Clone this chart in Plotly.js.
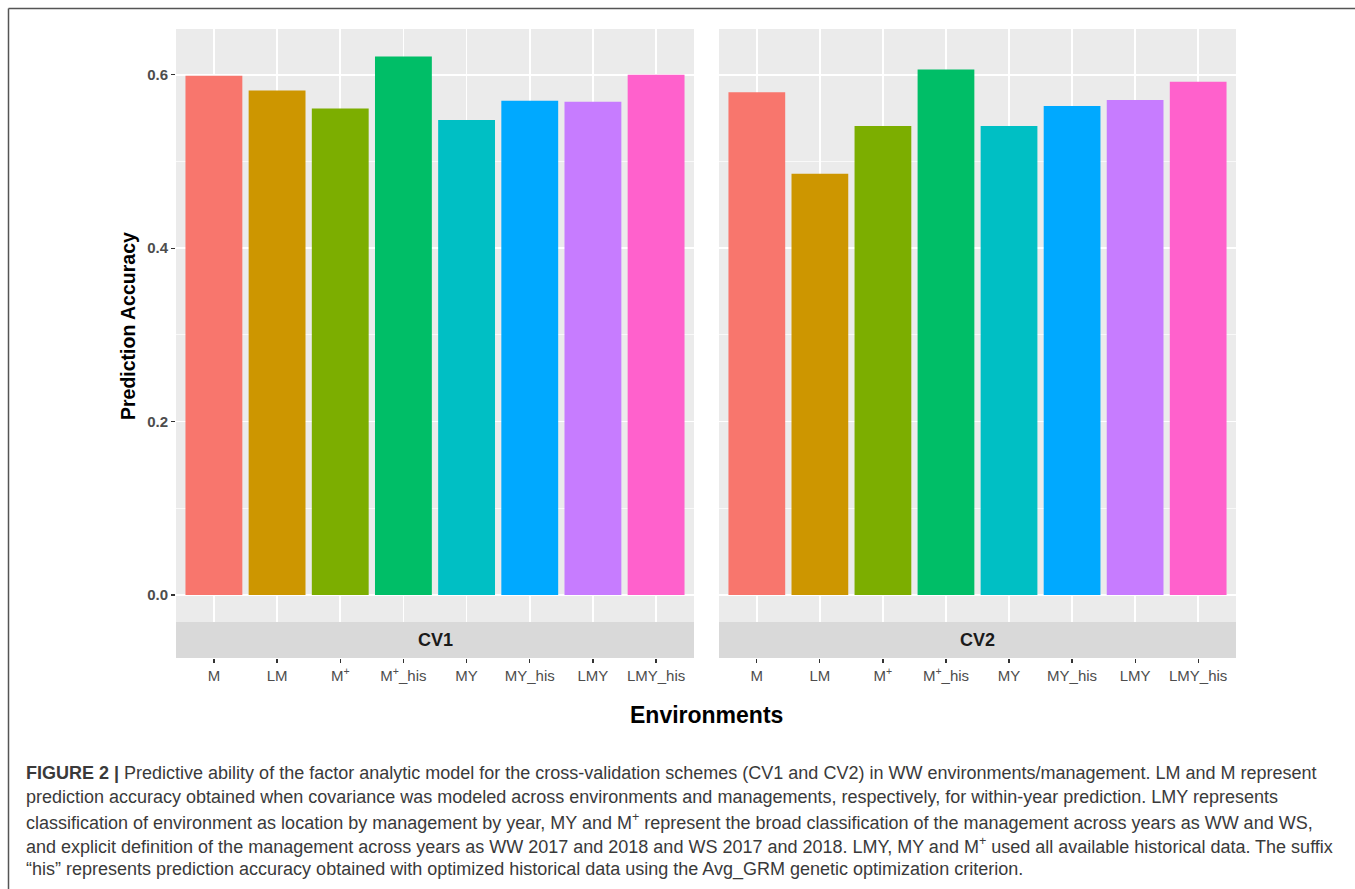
<!DOCTYPE html>
<html>
<head>
<meta charset="utf-8">
<script src="https://cdn.plot.ly/plotly-3.0.1.min.js"></script>
<style>
  html, body { margin: 0; padding: 0; background: #ffffff; }
  #chart { width: 1355px; height: 889px; }
</style>
</head>
<body>
<div id="chart"></div>
<script>
// ---- data ----
const categories = ["M", "LM", "M+", "M+_his", "MY", "MY_his", "LMY", "LMY_his"];
const tickLabels = ["M", "LM", "M<sup>+</sup>", "M<sup>+</sup>_his", "MY", "MY_his", "LMY", "LMY_his"];
const panels = ["CV1", "CV2"];
const cv1Accuracy = [0.599, 0.582, 0.561, 0.621, 0.548, 0.570, 0.569, 0.600];
const cv2Accuracy = [0.580, 0.486, 0.541, 0.606, 0.541, 0.564, 0.571, 0.592];
const barColors = ["#F8766D", "#CD9600", "#7CAE00", "#00BE67", "#00BFC4", "#00A9FF", "#C77CFF", "#FF61CC"];
const yTickVals = [0, 0.2, 0.4, 0.6];
const yTickText = ["0.0", "0.2", "0.4", "0.6"];
const captionLines = [
  "<b>FIGURE 2 |</b> Predictive ability of the factor analytic model for the cross-validation schemes (CV1 and CV2) in WW environments/management. LM and M represent",
  "prediction accuracy obtained when covariance was modeled across environments and managements, respectively, for within-year prediction. LMY represents",
  "classification of environment as location by management by year, MY and M<sup>+</sup> represent the broad classification of the management across years as WW and WS,",
  "and explicit definition of the management across years as WW 2017 and 2018 and WS 2017 and 2018. LMY, MY and M<sup>+</sup> used all available historical data. The suffix",
  "\u201chis\u201d represents prediction accuracy obtained with optimized historical data using the Avg_GRM genetic optimization criterion."
];

// ---- geometry (pixels) ----
const W = 1355, H = 889;
const plotL = 176, plotR = 1236, plotT = 29, plotB = 658;
const stripTop = 622;
const pw = plotR - plotL, ph = plotB - plotT;
const px = x => (x - plotL) / pw;
const py = y => (plotB - y) / ph;

const font = "Liberation Sans, Arial, sans-serif";

const traces = [
  { type: "bar", x: categories, y: cv1Accuracy, xaxis: "x", yaxis: "y",
    marker: { color: barColors, line: { width: 0 } }, width: 0.9, hoverinfo: "x+y", showlegend: false },
  { type: "bar", x: categories, y: cv2Accuracy, xaxis: "x2", yaxis: "y2",
    marker: { color: barColors, line: { width: 0 } }, width: 0.9, hoverinfo: "x+y", showlegend: false }
];

const xBase = {
  type: "category", range: [-0.6, 7.6], fixedrange: true,
  categoryorder: "array", categoryarray: categories,
  tickmode: "array", tickvals: categories, ticktext: tickLabels,
  showgrid: true, gridcolor: "#ffffff", gridwidth: 1.6,
  ticks: "outside", ticklen: 4, tickwidth: 1.2, tickcolor: "#333333",
  tickfont: { family: font, size: 15, color: "#4D4D4D" },
  showline: false, zeroline: false
};
const yRange = [(595 - plotB) / 867, (595 - plotT) / 867];
const yBase = {
  range: yRange, fixedrange: true,
  tickmode: "array", tickvals: yTickVals, ticktext: yTickText,
  showgrid: true, gridcolor: "#ffffff", gridwidth: 1.6,
  minor: { dtick: 0.1, tick0: 0, showgrid: true, gridcolor: "#ffffff", gridwidth: 0.7, ticks: "" },
  zeroline: false, showline: false
};

const annotations = [];
panels.forEach((p, i) => {
  const x0 = i === 0 ? 176 : 719, x1 = i === 0 ? 694 : 1236;
  annotations.push({ xref: "paper", yref: "paper", x: px((x0 + x1) / 2), y: py(640),
    text: "<b>" + p + "</b>", showarrow: false, xanchor: "center", yanchor: "middle",
    font: { family: font, size: 18, color: "#1A1A1A" } });
});
annotations.push({ xref: "paper", yref: "paper", x: px(706), y: py(715),
  text: "<b>Environments</b>", showarrow: false, xanchor: "center", yanchor: "middle",
  font: { family: font, size: 23, color: "#000000" } });
annotations.push({ xref: "paper", yref: "paper", x: px(128), y: py(326),
  text: "<b>Prediction Accuracy</b>", showarrow: false, textangle: -90, xanchor: "center", yanchor: "middle",
  font: { family: font, size: 19.5, color: "#000000" } });
const capY = [773, 797, 821, 845, 869];
captionLines.forEach((t, i) => {
  annotations.push({ xref: "paper", yref: "paper", x: px(24), y: py(capY[i]),
    text: t, showarrow: false, xanchor: "left", yanchor: "middle", align: "left",
    font: { family: font, size: 18, color: "#3A3A3A" } });
});

const shapes = [
  { type: "rect", xref: "paper", yref: "paper", x0: px(176), x1: px(694), y0: py(658), y1: py(stripTop),
    fillcolor: "#D9D9D9", line: { width: 0 }, layer: "above" },
  { type: "rect", xref: "paper", yref: "paper", x0: px(719), x1: px(1236), y0: py(658), y1: py(stripTop),
    fillcolor: "#D9D9D9", line: { width: 0 }, layer: "above" },
  { type: "line", xref: "paper", yref: "paper", x0: px(8.5), x1: px(1360), y0: py(8.5), y1: py(8.5),
    line: { color: "#555555", width: 1.5 } },
  { type: "line", xref: "paper", yref: "paper", x0: px(8.5), x1: px(8.5), y0: py(8.5), y1: py(895),
    line: { color: "#555555", width: 1.5 } }
];

const layout = {
  width: W, height: H,
  margin: { l: plotL, r: W - plotR, t: plotT, b: H - plotB, pad: 0 },
  paper_bgcolor: "#ffffff", plot_bgcolor: "#EBEBEB",
  showlegend: false, bargap: 0.1,
  font: { family: font },
  xaxis: Object.assign({}, xBase, { domain: [0, px(694)], anchor: "y" }),
  xaxis2: Object.assign({}, xBase, { domain: [px(719), 1], anchor: "y2" }),
  yaxis: Object.assign({}, yBase, { anchor: "x", domain: [0, 1],
    ticks: "outside", ticklen: 4, tickwidth: 1.2, tickcolor: "#333333",
    tickfont: { family: font, size: 15, color: "#4D4D4D", weight: "bold" } }),
  yaxis2: Object.assign({}, yBase, { anchor: "x2", domain: [0, 1], matches: "y",
    showticklabels: false, ticks: "" }),
  annotations: annotations,
  shapes: shapes
};

Plotly.newPlot("chart", traces, layout, { staticPlot: true, displayModeBar: false });
</script>
</body>
</html>
